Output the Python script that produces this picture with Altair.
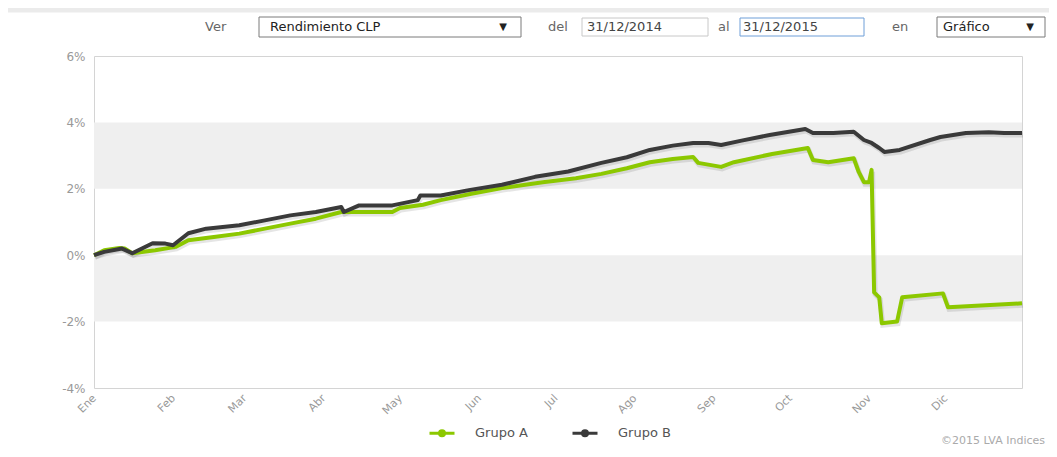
import altair as alt
import pandas as pd

FONT = "DejaVu Sans"

months_es = ["Ene", "Feb", "Mar", "Abr", "May", "Jun", "Jul", "Ago", "Sep", "Oct", "Nov", "Dic"]
y_ticks = [-4, -2, 0, 2, 4, 6]
band_low = [2, -2]
band_high = [4, 0]
series_names = ["Grupo A", "Grupo B"]
series_colors = ["#8cc800", "#3a3a3a"]

dates_a = ["2015-01-01", "2015-01-05", "2015-01-11", "2015-01-13", "2015-01-16", "2015-01-25",
           "2015-02-02", "2015-02-07", "2015-02-17", "2015-02-27", "2015-03-09", "2015-03-19",
           "2015-03-29", "2015-04-08", "2015-04-28", "2015-05-01", "2015-05-10", "2015-05-17",
           "2015-05-29", "2015-06-10", "2015-06-26", "2015-07-09", "2015-07-19", "2015-07-29",
           "2015-08-07", "2015-08-16", "2015-08-24", "2015-08-26", "2015-09-04", "2015-09-09",
           "2015-09-24", "2015-10-08", "2015-10-10", "2015-10-16", "2015-10-26", "2015-10-28",
           "2015-10-30", "2015-11-01", "2015-11-02", "2015-11-03", "2015-11-05", "2015-11-06",
           "2015-11-12", "2015-11-14", "2015-11-30", "2015-12-02", "2015-12-31"]
values_a = [0.00, 0.15, 0.22, 0.20, 0.06, 0.15,
            0.25, 0.45, 0.55, 0.65, 0.80, 0.95,
            1.10, 1.30, 1.30, 1.42, 1.52, 1.66,
            1.85, 2.02, 2.20, 2.32, 2.45, 2.62,
            2.80, 2.90, 2.96, 2.78, 2.66, 2.80,
            3.05, 3.23, 2.87, 2.80, 2.92, 2.50,
            2.20, 2.20, 2.57, -1.12, -1.27, -2.05,
            -2.00, -1.27, -1.15, -1.57, -1.45]

dates_b = ["2015-01-01", "2015-01-05", "2015-01-12", "2015-01-16", "2015-01-24", "2015-01-29",
           "2015-02-01", "2015-02-07", "2015-02-14", "2015-02-27", "2015-03-09", "2015-03-19",
           "2015-03-29", "2015-04-08", "2015-04-09", "2015-04-15", "2015-04-28", "2015-05-08",
           "2015-05-09", "2015-05-17", "2015-05-28", "2015-06-10", "2015-06-23", "2015-07-06",
           "2015-07-19", "2015-07-29", "2015-08-07", "2015-08-16", "2015-08-24", "2015-08-30",
           "2015-09-04", "2015-09-12", "2015-09-23", "2015-10-07", "2015-10-10", "2015-10-18",
           "2015-10-26", "2015-10-30", "2015-11-02", "2015-11-05", "2015-11-07", "2015-11-13",
           "2015-11-25", "2015-11-29", "2015-12-09", "2015-12-18", "2015-12-24", "2015-12-31"]
values_b = [0.00, 0.10, 0.20, 0.06, 0.36, 0.35,
            0.30, 0.66, 0.80, 0.90, 1.05, 1.20,
            1.30, 1.45, 1.30, 1.50, 1.50, 1.66,
            1.80, 1.80, 1.96, 2.12, 2.36, 2.52,
            2.78, 2.95, 3.17, 3.30, 3.38, 3.38,
            3.32, 3.45, 3.62, 3.80, 3.68, 3.68,
            3.72, 3.47, 3.38, 3.23, 3.11, 3.17,
            3.47, 3.56, 3.68, 3.70, 3.68, 3.68]

df = pd.concat([
    pd.DataFrame({"fecha": dates_a, "valor": values_a, "serie": series_names[0]}),
    pd.DataFrame({"fecha": dates_b, "valor": values_b, "serie": series_names[1]}),
])
bands = pd.DataFrame({"lo": band_low, "hi": band_high})

yscale = alt.Scale(domain=[-4, 6], nice=False, zero=False)
xscale = alt.Scale(type="utc", domain=[alt.DateTime(year=2015, month=1, date=1, utc=True),
                                       alt.DateTime(year=2015, month=12, date=31, utc=True)])

month_expr = "[" + ",".join("'%s'" % m for m in months_es) + "][utcmonth(datum.value)]"

x_axis = alt.Axis(values=[alt.DateTime(year=2015, month=m, date=1, utc=True) for m in range(1, 13)],
                  labelExpr=month_expr, labelAngle=-45, labelAlign="right",
                  labelBaseline="top", labelPadding=4, labelOffset=-4, labelFlush=False,
                  labelOverlap=False, labelBound=False, title=None)
y_axis = alt.Axis(values=y_ticks, labelExpr="datum.value + '%'", labelPadding=9,
                  labelFontSize=12, title=None)

band_layer = alt.Chart(bands).mark_rect(color="#efefef").encode(
    y=alt.Y("lo:Q", scale=yscale, axis=y_axis, title=None),
    y2="hi:Q",
)

shadow = alt.Chart(df).mark_line(color="#000000", opacity=0.10, strokeWidth=5,
                                 xOffset=1, yOffset=2).encode(
    x=alt.X("fecha:T", scale=xscale, axis=x_axis, title=None),
    y=alt.Y("valor:Q", scale=yscale, axis=y_axis, title=None),
    detail="serie:N",
)

symbol_path = "M-1,0L1,0M-0.2,0A0.2,0.2,0,1,0,0.2,0A0.2,0.2,0,1,0,-0.2,0Z"

lines = alt.Chart(df).mark_line(strokeWidth=4, strokeJoin="round").encode(
    x=alt.X("fecha:T", scale=xscale, axis=x_axis, title=None),
    y=alt.Y("valor:Q", scale=yscale, axis=y_axis, title=None),
    color=alt.Color("serie:N", scale=alt.Scale(domain=series_names, range=series_colors),
                    legend=alt.Legend(title=None, orient="none", direction="horizontal",
                                      legendX=334, legendY=363, padding=0,
                                      symbolType=symbol_path, symbolSize=625,
                                      symbolStrokeWidth=3, labelOffset=19, columnPadding=38,
                                      labelFont=FONT, labelFontSize=13, labelColor="#555555")),
)


def txt(s, x, y, size=13, color="#333333", align="left"):
    return alt.Chart(pd.DataFrame({"t": [s]})).mark_text(
        align=align, baseline="middle", fontSize=size, color=color, font=FONT
    ).encode(text="t:N", x=alt.value(x), y=alt.value(y))


def box(x1, x2, y1, y2, stroke, fill="white"):
    return alt.Chart(pd.DataFrame({"k": [0]})).mark_rect(fill=fill, stroke=stroke, strokeWidth=1).encode(
        x=alt.value(x1), x2=alt.value(x2), y=alt.value(y1), y2=alt.value(y2))


deco = [
    box(-86, 955, -48, -44, "#ebebeb", "#ebebeb"),
    txt("Ver", 111, -29, color="#666666"),
    box(165, 427, -39, -19, "#7a7a7a"),
    txt("Rendimiento CLP", 176, -29, color="#222222"),
    txt("▼", 409, -29, size=10, color="#222222", align="center"),
    txt("del", 454, -29, color="#666666"),
    box(488, 614, -38, -20, "#c8c8c8"),
    txt("31/12/2014", 493, -29, color="#444444"),
    txt("al", 624, -29, color="#666666"),
    box(646, 770, -38, -20, "#6f9fd8"),
    txt("31/12/2015", 649, -29, color="#444444"),
    txt("en", 798, -29, color="#666666"),
    box(843, 951, -39, -19, "#7a7a7a"),
    txt("Gráfico", 849, -29, color="#222222"),
    txt("▼", 936, -29, size=10, color="#222222", align="center"),
    txt("©2015 LVA Indices", 951, 385, size=11, color="#aaaaaa", align="right"),
]

chart = alt.layer(band_layer, shadow, lines, *deco).properties(
    width=928, height=332,
    padding={"left": 86, "top": 48, "right": 27, "bottom": 61},
    autosize="none",
    background="white",
).configure_view(
    stroke="#d4d4d4", strokeWidth=1
).configure_axis(
    domain=False, ticks=False, grid=False,
    labelFont=FONT, labelFontSize=11, labelColor="#999999",
)

chart.save("out.html", embed_options={"renderer": "svg", "actions": False})
